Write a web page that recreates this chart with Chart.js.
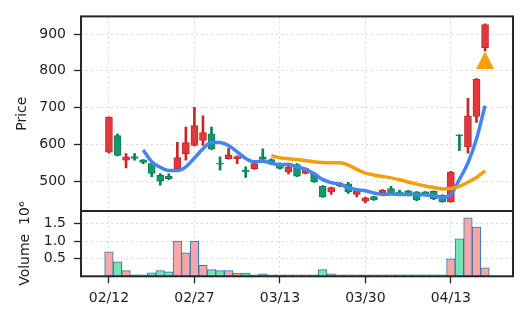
<!DOCTYPE html>
<html lang="en">
<head>
<meta charset="UTF-8">
<title>Price and volume</title>
<script src="https://cdn.jsdelivr.net/npm/chart.js@4.4.1/dist/chart.umd.min.js"></script>
<style>
  html, body { margin: 0; padding: 0; background: #fff; }
  #wrap { position: relative; width: 528px; height: 322px; }
  #wrap canvas { position: absolute; left: 0; top: 0; }
</style>
</head>
<body>
<div id="wrap">
  <canvas id="priceChart" width="528" height="322"></canvas>
  <canvas id="volChart" width="528" height="322"></canvas>
</div>

<script>
// ---- data ----
const dateLabels = ['02/12', '02/27', '03/13', '03/30', '04/13'];
const dateIdx = [0, 10, 20, 30, 40];

const openP  = [579, 624, 557, 567, 558, 548, 516, 513, 534, 575, 597, 611, 629, 549, 561, 561, 530, 534, 566, 559,
                548, 525, 545, 521, 521, 486, 471, 487, 493, 464, 446, 458, 468, 480, 471, 474, 471, 471, 473, 462,
                444, 626, 593, 676, 863];
const highP  = [675, 629, 575, 575, 559, 552, 521, 520, 606, 647, 701, 678, 647, 566, 590, 569, 539, 550, 588, 561,
                550, 541, 548, 536, 523, 488, 484, 497, 497, 476, 457, 459, 477, 486, 476, 475, 472, 472, 474, 463,
                527, 627, 725, 779, 928];
const lowP   = [576, 569, 536, 557, 548, 512, 489, 504, 530, 557, 596, 597, 586, 530, 560, 548, 510, 532, 557, 545,
                533, 520, 512, 520, 497, 456, 464, 485, 467, 457, 441, 448, 466, 467, 465, 460, 447, 460, 450, 443,
                443, 583, 576, 660, 854];
const closeP = [674, 570, 566, 562, 551, 521, 500, 507, 564, 605, 651, 632, 587, 546, 572, 567, 525, 548, 559, 546,
                535, 539, 514, 534, 498, 458, 483, 495, 471, 473, 455, 449, 475, 468, 467, 461, 449, 462, 452, 444,
                525, 624, 678, 777, 926];
const volume = [700000, 410000, 160000, 40000, 40000, 100000, 160000, 130000, 1010000, 670000,
                1010000, 310000, 190000, 160000, 160000, 90000, 90000, 40000, 70000, 30000,
                10000, 10000, 40000, 10000, 10000, 190000, 70000, 10000, 40000, 10000,
                10000, 10000, 10000, 10000, 10000, 5000, 10000, 40000, 10000, 40000,
                500000, 1070000, 1670000, 1410000, 240000];

const maShortStart = 4;
const maShort = [585, 553, 538, 529, 529, 539, 563, 588, 606, 605, 597, 580, 562, 553, 554, 549, 545, 546, 539, 533,
                 520, 505, 496, 492, 482, 477, 474, 468, 464, 465, 464, 464, 464, 463, 460, 456, 464, 505, 550, 615, 705];
const maLongStart = 19;
const maLong = [569, 564, 561, 559, 556, 553, 551, 550, 550, 544, 532, 522, 517, 513, 509, 504, 498, 492, 487, 483,
                479, 480, 486, 497, 510, 528];

const signalIdx = [44];
const signalPrice = [829];

const priceTicks = [500, 600, 700, 800, 900];
const volTicks = [500000, 1000000, 1500000];

// ---- look ----
const ink = '#222';
const gridColor = '#d9d9d9';
const upFill = '#e0383c', upEdge = '#c62828';
const downFill = '#13996b', downEdge = '#0b7f57';
const volUp = '#f7a7a7', volDown = '#74e4b6', volEdge = '#2b78b5';

Chart.defaults.font.family = "'DejaVu Sans', sans-serif";
Chart.defaults.font.size = 14;
Chart.defaults.color = ink;

const up = closeP.map((c, i) => c >= openP[i]);
const xMin = -3.27, xMax = 47.27;

// matplotlib-like '^' marker
const tri = document.createElement('canvas');
tri.width = 18; tri.height = 18;
const tc = tri.getContext('2d');
tc.fillStyle = '#f59e0b';
tc.beginPath(); tc.moveTo(9, 0); tc.lineTo(18, 18); tc.lineTo(0, 18); tc.closePath(); tc.fill();

const frame = {
    id: 'frame',
    afterDraw(chart) {
        const {ctx, chartArea: a} = chart;
        ctx.save();
        ctx.strokeStyle = '#262626';
        ctx.lineWidth = 2;
        ctx.strokeRect(a.left, a.top, a.right - a.left, a.bottom - a.top);
        ctx.restore();
    }
};

function yAxis(extra) {
    return Object.assign({
        type: 'linear',
        ticks: { color: ink, padding: 8 },
        grid: { color: gridColor, lineWidth: 1, tickColor: ink, tickLength: 7, tickWidth: 1.3, tickBorderDash: [] },
        border: { display: false, dash: [2, 3] },
        afterFit: s => { s.width = 81; }
    }, extra);
}

new Chart(document.getElementById('priceChart'), {
    type: 'bar',
    data: {
        datasets: [
            {
                type: 'scatter',
                data: signalIdx.map((x, k) => ({x: x, y: signalPrice[k]})),
                pointStyle: tri,
                pointRadius: 9,
                order: 0
            },
            {
                type: 'line',
                data: maLong.map((v, k) => ({x: k + maLongStart, y: v})),
                borderColor: '#f59e0b',
                borderWidth: 3.5,
                pointRadius: 0,
                cubicInterpolationMode: 'monotone',
                order: 1
            },
            {
                type: 'line',
                data: maShort.map((v, k) => ({x: k + maShortStart, y: v})),
                borderColor: '#4285f4',
                borderWidth: 3.5,
                pointRadius: 0,
                cubicInterpolationMode: 'monotone',
                order: 2
            },
            {
                // candle bodies
                data: openP.map((o, i) => ({x: i, y: [o, closeP[i]]})),
                backgroundColor: up.map(u => u ? upFill : downFill),
                borderColor: up.map(u => u ? upEdge : downEdge),
                borderWidth: 1,
                borderSkipped: false,
                barThickness: 7,
                grouped: false,
                order: 3
            },
            {
                // wicks
                data: lowP.map((l, i) => ({x: i, y: [l, highP[i]]})),
                backgroundColor: up.map(u => u ? upEdge : downEdge),
                borderWidth: 0,
                barThickness: 2,
                grouped: false,
                order: 4
            }
        ]
    },
    options: {
        responsive: false,
        animation: false,
        devicePixelRatio: 1,
        layout: { padding: { top: 15, right: 15, bottom: 111, left: 0 } },
        plugins: { legend: { display: false }, tooltip: { enabled: false } },
        scales: {
            x: {
                type: 'linear', min: xMin, max: xMax, offset: false,
                afterBuildTicks: s => { s.ticks = dateIdx.map(v => ({value: v})); },
                ticks: { display: false },
                grid: { color: gridColor, lineWidth: 1, drawTicks: false, offset: false },
                border: { display: false, dash: [2, 3] },
                afterFit: s => { s.height = 0; }
            },
            y: yAxis({
                min: 419, max: 948,
                afterBuildTicks: s => { s.ticks = priceTicks.map(v => ({value: v})); },
                title: { display: true, text: 'Price', color: ink, padding: { top: 13.5, bottom: 0 } }
            })
        }
    },
    plugins: [frame]
});

new Chart(document.getElementById('volChart'), {
    type: 'bar',
    data: {
        datasets: [{
            data: volume.map((v, i) => ({x: i, y: v})),
            backgroundColor: up.map(u => u ? volUp : volDown),
            borderColor: volEdge,
            borderWidth: 1,
            borderSkipped: false,
            barThickness: 8.55,
            minBarLength: 1.5,
            grouped: false
        }]
    },
    options: {
        responsive: false,
        animation: false,
        devicePixelRatio: 1,
        layout: { padding: { top: 211, right: 15, bottom: 0, left: 0 } },
        plugins: { legend: { display: false }, tooltip: { enabled: false } },
        scales: {
            x: {
                type: 'linear', min: xMin, max: xMax, offset: false,
                afterBuildTicks: s => { s.ticks = dateIdx.map(v => ({value: v})); },
                ticks: {
                    color: ink, padding: 7, maxRotation: 0, autoSkip: false,
                    callback: v => dateLabels[dateIdx.indexOf(v)]
                },
                grid: { color: gridColor, lineWidth: 1, offset: false, tickColor: ink, tickLength: 7, tickWidth: 1.3, tickBorderDash: [] },
                border: { display: false, dash: [2, 3] },
                afterFit: s => { s.height = 45.7; }
            },
            y: yAxis({
                min: 0, max: 1866000,
                afterBuildTicks: s => { s.ticks = volTicks.map(v => ({value: v})); },
                ticks: { color: ink, padding: 8, callback: v => (v / 1e6).toFixed(1) },
                title: { display: true, text: 'Volume  10\u2076', color: ink, padding: { top: 16.8, bottom: 0 } }
            })
        }
    },
    plugins: [frame]
});
</script>
</body>
</html>
